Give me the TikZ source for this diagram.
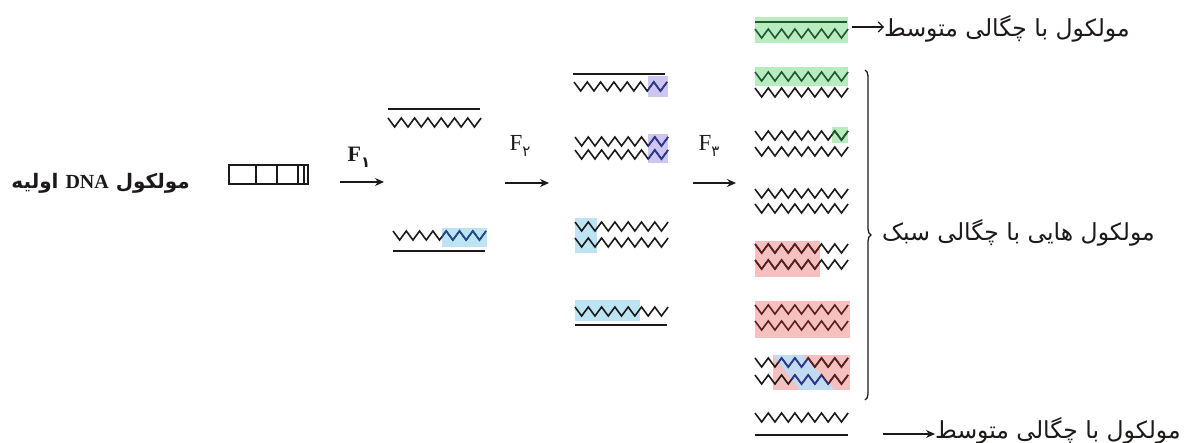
\documentclass[tikz,border=0pt]{standalone}
\usepackage{fontspec}
\setmainfont{Liberation Serif}
\newfontfamily\fafont[Script=Arabic]{DejaVu Sans}
\TeXXeTstate=1
\usetikzlibrary{arrows.meta,decorations.pathreplacing}

\definecolor{inkc}{RGB}{30,25,25}
\definecolor{greenshade}{RGB}{182,236,190}
\definecolor{blueshade}{RGB}{188,228,242}
\definecolor{lavshade}{RGB}{204,198,240}
\definecolor{redshade}{RGB}{244,192,192}
\definecolor{darkgreen}{RGB}{35,85,50}
\definecolor{darkred}{RGB}{95,30,30}
\definecolor{darkblue}{RGB}{45,55,150}

\tikzset{
  zzline/.style={draw=inkc, line width=1.6pt, line join=miter},
  strand/.style={draw=inkc, line width=2.2pt},
  flow/.style={draw=inkc, line width=1.4pt, -{Stealth[length=9pt,width=8pt]}},
  pointer/.style={draw=inkc, line width=1.1pt, -{Straight Barb[length=5pt,width=10pt]}},
  fatext/.style={text=inkc, inner sep=0pt, font=\fafont\fontsize{23.5}{26}\selectfont},
  genlabel/.style={text=inkc, inner sep=0pt, font=\fontsize{23}{25}\selectfont},
}

% one new (zigzag) strand: #2 = left x, #3 = top y
\newcommand\dnazig[3][]{\draw[zzline,#1] (#2,#3) \foreach \k in {1,...,7}{ -- ++(6.65,9) -- ++(6.65,-9)};}
% subscript generation number in Persian digits
\newcommand\gensub[1]{\raisebox{-6pt}{\fafont\fontsize{15}{16}\selectfont #1}}

\begin{document}
\begin{tikzpicture}[x=1pt,y=-1pt]
\useasboundingbox (0,0) rectangle (1189,443);

% ---------- parent molecule ----------
\node[fatext, anchor=east, font=\fafont\bfseries\fontsize{20}{22}\selectfont] (parent) at (190,183)
  {\beginR مولکول \beginL{\rmfamily\bfseries DNA}\endL{} اولیه\endR};
\draw[inkc, line width=1.6pt] (229,165) rectangle (308,184);
\foreach \vx in {256,277,298,304} \draw[inkc, line width=1.4pt] (\vx,165) -- (\vx,184);

% ---------- generation arrows ----------
\node[genlabel, font=\bfseries\fontsize{22}{24}\selectfont] (f1) at (359,157) {F\gensub{۱}};
\coordinate (f1s) at (340,182); \coordinate (f1e) at (384,182);
\draw[flow] (f1s) -- (f1e);
\node[genlabel] (f2) at (520,146) {F\gensub{۲}};
\coordinate (f2s) at (505,183); \coordinate (f2e) at (549,183);
\draw[flow] (f2s) -- (f2e);
\node[genlabel] (f3) at (709,146) {F\gensub{۳}};
\coordinate (f3s) at (693,183); \coordinate (f3e) at (736,183);
\draw[flow] (f3s) -- (f3e);

% ---------- first generation ----------
\draw[strand] (388,109) -- (480,109);
\dnazig{388}{118}
\fill[blueshade] (442,228) rectangle (487,247);
\dnazig{393}{231}
\begin{scope}\clip (442,225) rectangle (490,250); \dnazig[draw=darkblue!70!teal]{393}{231}\end{scope}
\draw[strand] (393,251) -- (485,251);

% ---------- second generation ----------
\fill[lavshade] (648,76) rectangle (668,97);
\draw[strand] (573,74) -- (665,74);
\dnazig{574}{82}
\begin{scope}\clip (648,76) rectangle (670,97); \dnazig[draw=darkblue]{574}{82}\end{scope}

\fill[lavshade] (648,134) rectangle (668,163);
\dnazig{575}{137}
\dnazig{575}{150}
\begin{scope}\clip (648,134) rectangle (670,163); \dnazig[draw=darkblue]{575}{137}\dnazig[draw=darkblue]{575}{150}\end{scope}

\fill[blueshade] (575,218) rectangle (597,253);
\dnazig{575}{222}
\dnazig{575}{238}

\fill[blueshade] (575,300) rectangle (640,321);
\dnazig{575}{307}
\draw[strand] (575,325) -- (667,325);

% ---------- third generation ----------
\fill[greenshade] (755,17) rectangle (848,43);
\draw[strand, draw=darkgreen] (755,22) -- (847,22);
\dnazig[draw=darkgreen]{755}{29}
\coordinate (topmid) at (852,27);
\node[fatext, anchor=west] (midtop) at (884,29) {\beginR مولکول با چگالی متوسط\endR};
\draw[pointer] (topmid) -- (midtop.west |- topmid);

\fill[greenshade] (755,67) rectangle (848,86);
\dnazig[draw=darkgreen]{755}{72}
\dnazig{755}{88}

\fill[greenshade] (832,127) rectangle (848,143);
\dnazig{755}{131}
\dnazig{755}{147}
\begin{scope}\clip (832,127) rectangle (850,143); \dnazig[draw=darkgreen]{755}{131}\end{scope}

\dnazig{755}{189}
\dnazig{755}{204}

\fill[redshade] (755,241) rectangle (820,277);
\dnazig{755}{244}
\dnazig{755}{260}
\begin{scope}\clip (755,241) rectangle (820,277); \dnazig[draw=darkred]{755}{244}\dnazig[draw=darkred]{755}{260}\end{scope}

\fill[redshade] (755,301) rectangle (850,338);
\dnazig[draw=darkred]{755}{305}
\dnazig[draw=darkred]{755}{321}

\fill[redshade] (773,355) rectangle (850,390);
\fill[blueshade!70!lavshade] (773,355) -- (803,355) -- (835,390) -- (800,390) -- cycle;
\dnazig{755}{358}
\dnazig{755}{375}
\begin{scope}\clip (773,355) -- (803,355) -- (835,390) -- (800,390) -- cycle;
  \dnazig[draw=darkblue]{755}{358}\dnazig[draw=darkblue]{755}{375}\end{scope}
\begin{scope}\clip (803,355) -- (850,355) -- (850,390) -- (835,390) -- cycle;
  \dnazig[draw=darkred]{755}{358}\dnazig[draw=darkred]{755}{375}\end{scope}

\dnazig{755}{413}
\draw[strand] (755,435) -- (848,435);
\coordinate (botmid) at (883,434);
\node[fatext, anchor=west] (midbot) at (935,431) {\beginR مولکول با چگالی متوسط\endR};
\draw[flow, line width=1.6pt] (botmid) -- (midbot.west |- botmid);

% ---------- light molecules brace ----------
\coordinate (bracetop) at (865,70);
\coordinate (bracebot) at (865,400);
\draw[inkc, line width=1.3pt, decorate, decoration={brace, amplitude=6pt}] (bracetop) -- (bracebot);
\node[fatext, anchor=west] (light) at (882,233) {\beginR مولکول هایی با چگالی سبک\endR};
\end{tikzpicture}
\end{document}
